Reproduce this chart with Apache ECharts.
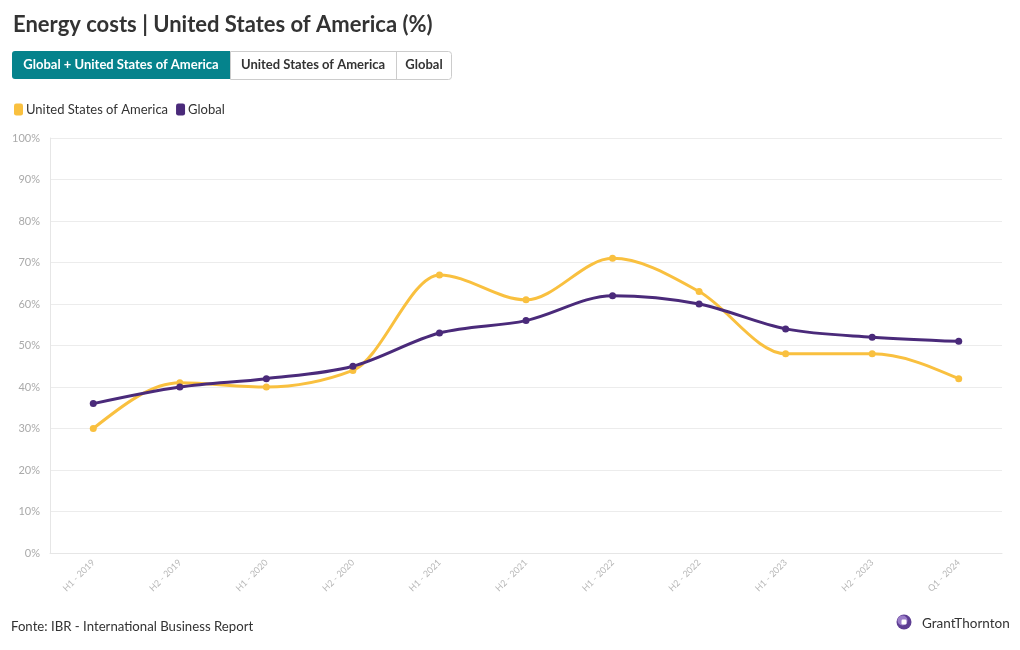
<!DOCTYPE html>
<html><head><meta charset="utf-8">
<script src="https://cdn.jsdelivr.net/npm/echarts@6/dist/echarts.min.js"></script>
<style>html,body{margin:0;padding:0;background:#fff}#c{width:1020px;height:650px}</style>
</head><body><div id="c"></div>
<script>
const categories = ['H1 - 2019','H2 - 2019','H1 - 2020','H2 - 2020','H1 - 2021','H2 - 2021','H1 - 2022','H2 - 2022','H1 - 2023','H2 - 2023','Q1 - 2024'];
const usValues = [30, 41, 40, 44, 67, 61, 71, 63, 48, 48, 42];
const globalValues = [36, 40, 42, 45, 53, 56, 62, 60, 54, 52, 51];
const seriesNames = ['United States of America', 'Global'];
const buttonLabels = ['Global + United States of America', 'United States of America', 'Global'];

const FONT = 'Lato, "Noto Sans", sans-serif';
const YEL = '#F9C03F', PUR = '#4A2A7A', TEAL = '#05838C';

// monotone-X cubic curve (as d3.curveMonotoneX) through points given in pixel space
function sign(v){ return v < 0 ? -1 : 1; }
function monotoneCurve(pts, color) {
  const n = pts.length, t = new Array(n).fill(0);
  for (let i = 1; i < n - 1; i++) {
    const [x0,y0] = pts[i-1], [x1,y1] = pts[i], [x2,y2] = pts[i+1];
    const h0 = x1 - x0, h1 = x2 - x1, s0 = (y1 - y0)/h0, s1 = (y2 - y1)/h1;
    const p = (s0*h1 + s1*h0)/(h0 + h1);
    t[i] = (sign(s0) + sign(s1)) * Math.min(Math.abs(s0), Math.abs(s1), 0.5*Math.abs(p)) || 0;
  }
  if (n > 2) {
    let h = pts[1][0] - pts[0][0];
    t[0] = (3*(pts[1][1]-pts[0][1])/h - t[1]) / 2;
    h = pts[n-1][0] - pts[n-2][0];
    t[n-1] = (3*(pts[n-1][1]-pts[n-2][1])/h - t[n-2]) / 2;
  }
  const children = [];
  for (let i = 0; i < n - 1; i++) {
    const [x0,y0] = pts[i], [x1,y1] = pts[i+1], dx = (x1 - x0)/3;
    children.push({type: 'bezierCurve', shape: {x1: x0, y1: y0, x2: x1, y2: y1,
      cpx1: x0 + dx, cpy1: y0 + dx*t[i], cpx2: x1 - dx, cpy2: y1 - dx*t[i+1]},
      style: {stroke: color, lineWidth: 3, fill: null, lineCap: 'round'}});
  }
  return {type: 'group', children};
}
function curveSeries(values, color) {
  return {type: 'custom', data: [0], silent: true, z: 1,
    renderItem: (params, api) => {
      const pts = values.map((v, i) => api.coord([i, v]));
      return monotoneCurve(pts, color);
    }};
}

const chart = echarts.init(document.getElementById('c'));
chart.setOption({
  animation: false,
  textStyle: {fontFamily: FONT},
  title: {text: 'Energy costs | United States of America (%)', left: 8, top: 9,
    textStyle: {fontFamily: FONT, fontWeight: 'bold', fontSize: 22, color: '#333'}},
  legend: {left: 9, top: 98, itemWidth: 9, itemHeight: 12, itemGap: 8, icon: 'roundRect',
    textStyle: {fontSize: 13, color: '#333', fontFamily: FONT, padding: [0,0,0,-2]}, data: seriesNames},
  graphic: [
    {type: 'rect', left: 12, top: 51, shape: {width: 218, height: 28, r: [3,0,0,3]}, style: {fill: TEAL}},
    {type: 'rect', left: 230, top: 51, shape: {width: 221, height: 28, r: [0,3,3,0]}, style: {fill: '#fff', stroke: '#ccc', lineWidth: 1}},
    {type: 'line', shape: {x1: 396.5, y1: 51, x2: 396.5, y2: 79}, style: {stroke: '#ccc', lineWidth: 1}},
    {type: 'text', x: 121, y: 65, style: {text: buttonLabels[0], fill: '#fff', font: 'bold 13px ' + FONT, textAlign: 'center', textVerticalAlign: 'middle'}},
    {type: 'text', x: 313, y: 65, style: {text: buttonLabels[1], fill: '#333', font: 'bold 13px ' + FONT, textAlign: 'center', textVerticalAlign: 'middle'}},
    {type: 'text', x: 424, y: 65, style: {text: buttonLabels[2], fill: '#333', font: 'bold 13px ' + FONT, textAlign: 'center', textVerticalAlign: 'middle'}},
    {type: 'text', left: 11, top: 620, style: {text: 'Fonte: IBR - International Business Report', fill: '#333', font: '13.2px ' + FONT}},
    {type: 'circle', shape: {cx: 904, cy: 622, r: 7.5}, style: {fill: '#5E3E93'}},
    {type: 'circle', shape: {cx: 902.5, cy: 620.5, r: 5}, style: {fill: '#9A7CC8'}},
    {type: 'rect', shape: {x: 901.5, y: 619.5, width: 5, height: 5, r: 1.2}, style: {fill: '#fff'}},
    {type: 'text', left: 922, top: 617, style: {text: 'GrantThornton', fill: '#333', font: '13.5px ' + FONT}}
  ],
  grid: {left: 50, right: 18, top: 138, bottom: 97},
  xAxis: {type: 'category', data: categories, boundaryGap: true,
    axisLine: {lineStyle: {color: '#e6e6e6'}},
    axisTick: {alignWithLabel: true, lineStyle: {color: '#e6e6e6'}, length: 5},
    axisLabel: {rotate: 45, color: '#b8b8b8', fontSize: 9, margin: 8, fontFamily: FONT}},
  yAxis: {type: 'value', min: 0, max: 100, interval: 10,
    axisLine: {show: true, lineStyle: {color: '#e6e6e6'}},
    axisTick: {show: false},
    splitLine: {lineStyle: {color: '#ececec'}},
    axisLabel: {formatter: '{value}%', color: '#aaa', fontSize: 11, margin: 10, fontFamily: FONT}},
  series: [
    curveSeries(usValues, YEL),
    curveSeries(globalValues, PUR),
    {name: seriesNames[0], type: 'line', data: usValues, z: 3,
     symbol: 'circle', symbolSize: 7, itemStyle: {color: YEL}, lineStyle: {width: 0, opacity: 0}},
    {name: seriesNames[1], type: 'line', data: globalValues, z: 4,
     symbol: 'circle', symbolSize: 7, itemStyle: {color: PUR}, lineStyle: {width: 0, opacity: 0}}
  ]
});
</script></body></html>
